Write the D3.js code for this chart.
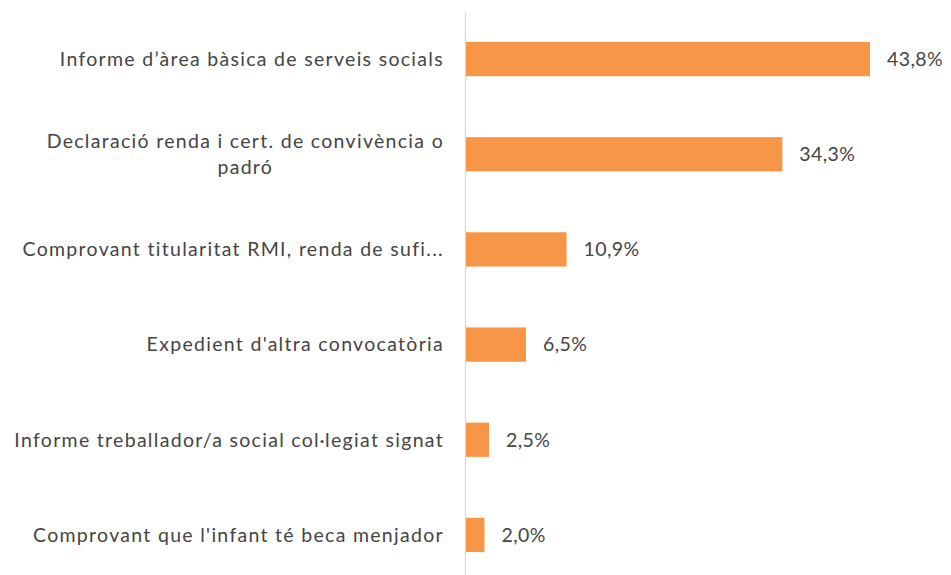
<!DOCTYPE html>
<html><head><meta charset="utf-8">
<script src="https://cdn.jsdelivr.net/npm/d3@7"></script>
<style>body{margin:0;background:#fff;} text{font-family:Lato,"Open Sans",sans-serif;}</style>
</head><body>
<svg id="c" width="951" height="575"></svg>
<script>
const categories = [
  ["Informe d’àrea bàsica de serveis socials"],
  ["Declaració renda i cert. de convivència o", "padró"],
  ["Comprovant titularitat RMI, renda de sufi..."],
  ["Expedient d'altra convocatòria"],
  ["Informe treballador/a social col·legiat signat"],
  ["Comprovant que l'infant té beca menjador"]
];
const values = [43.8, 34.3, 10.9, 6.5, 2.5, 2.0];
const valueLabels = ["43,8%", "34,3%", "10,9%", "6,5%", "2,5%", "2,0%"];

const svg = d3.select("#c");
const x0 = 466;
const x = d3.scaleLinear().domain([0, 43.8]).range([x0, 870]);
const y = d3.scaleBand().domain(d3.range(values.length)).range([11.5, 582.5]).paddingInner(0.64).paddingOuter(0.32);

svg.append("line").attr("x1", 465.5).attr("x2", 465.5).attr("y1", 12).attr("y2", 575)
  .attr("stroke", "#d9d9d9").attr("stroke-width", 1.3);

svg.selectAll("rect.bar").data(values).join("rect").attr("class", "bar")
  .attr("x", x0).attr("y", (d, i) => y(i)).attr("height", y.bandwidth())
  .attr("width", d => x(d) - x0).attr("fill", "#F79646");

svg.selectAll("text.val").data(values).join("text").attr("class", "val")
  .attr("x", d => x(d) + 17).attr("y", (d, i) => y(i) + y.bandwidth() / 2)
  .attr("dy", "0.35em").attr("font-size", 19.5).attr("letter-spacing", 0.4).attr("fill", "#454545")
  .text((d, i) => valueLabels[i]);

const labelRight = 444;
categories.forEach((lines, i) => {
  const cy = y(i) + y.bandwidth() / 2;
  const g = svg.append("g");
  const lh = 26;
  const ts = lines.map((l, j) => g.append("text")
    .attr("y", cy + (j - (lines.length - 1) / 2) * lh).attr("dy", "0.35em")
    .attr("font-size", 19.5).attr("letter-spacing", 1.3).attr("fill", "#454545").text(l));
  const w = d3.max(ts, t => t.node().getBBox().width);
  ts.forEach(t => t.attr("text-anchor", "middle").attr("x", labelRight - w / 2));
});
</script>
</body></html>
